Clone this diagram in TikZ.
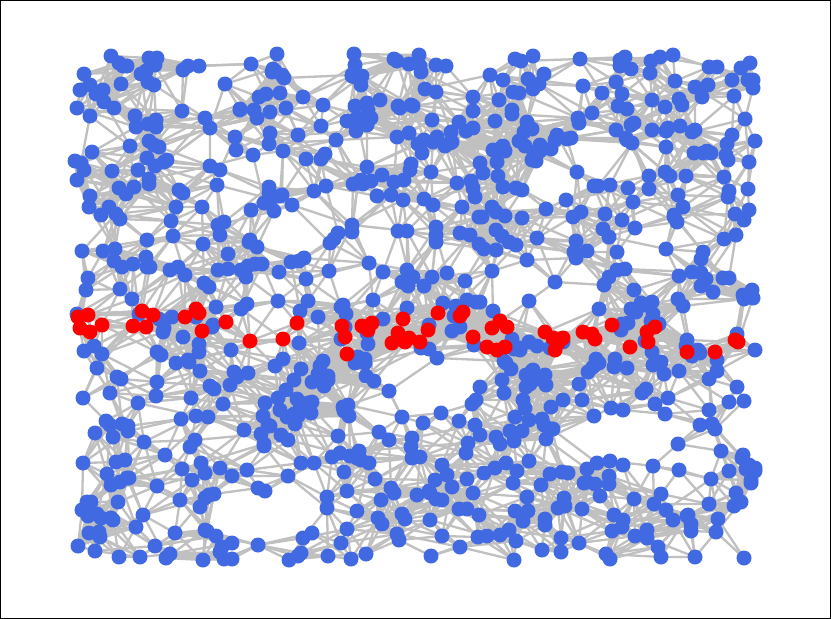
\documentclass[tikz,border=0pt]{standalone}
\pgfdeclarelayer{bg}
\pgfsetlayers{bg,main}
\definecolor{nodeblue}{RGB}{65,105,225}
\definecolor{nodered}{RGB}{255,0,0}
\definecolor{edgegray}{RGB}{192,192,192}
\tikzset{
  bnode/.style={circle,fill=nodeblue,draw=none,inner sep=0pt,minimum size=15pt},
  rnode/.style={circle,fill=nodered,draw=none,inner sep=0pt,minimum size=15pt},
  edgeline/.style={draw=edgegray,line width=2.3pt},
  frame/.style={draw=black,line width=1pt},
}
\makeatletter
\newcount\ptN
\newcount\ptK
\newcount\nBlue
\newif\ifreject
\def\target{850}
\def\thresh{465100}
\newcommand\addpt[2]{%
  \global\advance\ptN by 1
  \expandafter\xdef\csname PX\the\ptN\endcsname{\number#1}%
  \expandafter\xdef\csname PY\the\ptN\endcsname{\number#2}%
  \edef\ci{\the\numexpr(#1-35)/70\relax}%
  \edef\cj{\the\numexpr(#2-26)/52\relax}%
  \expandafter\xdef\csname PI\the\ptN\endcsname{\ci}%
  \expandafter\xdef\csname PJ\the\ptN\endcsname{\cj}%
  \ifcsname CL-\ci-\cj\endcsname\else
    \expandafter\gdef\csname CL-\ci-\cj\endcsname{}\fi
  \edef\tmp{\noexpand\do{\the\ptN}}%
  \expandafter\g@addto@macro\csname CL-\ci-\cj\expandafter\endcsname\expandafter{\tmp}%
}
\newcommand\hole[3]{%
  \ifnum\numexpr(\rx-#1)*(\rx-#1)+(\ry-#2)*(\ry-#2)\relax<\numexpr#3*#3\relax
    \rejecttrue\fi}
\def\holelist{\hole{440}{388}{24}\hole{705}{316}{24}\hole{640}{430}{24}%
  \hole{160}{197}{14}\hole{455}{527}{15}}
\newcommand\genone{%
  \pgfmathrandominteger{\rx}{75}{757}%
  \pgfmathrandominteger{\ry}{53}{560}%
  \rejectfalse
  \holelist
  \ifreject\else\addpt{\rx}{\ry}\fi}
\def\genloop{\ifnum\ptN<\target\relax\genone\expandafter\genloop\fi}
\newcommand\scancell[2]{%
  \ifcsname CL-\the\numexpr\curI+#1\relax-\the\numexpr\curJ+#2\relax\endcsname
    \csname CL-\the\numexpr\curI+#1\relax-\the\numexpr\curJ+#2\relax\endcsname
  \fi}
\newcommand\checkpair[1]{%
  \ifnum#1>\curA\relax
    \edef\dd{\the\numexpr 100*(\csname PX#1\endcsname-\curX)*(\csname PX#1\endcsname-\curX)
       +181*(\csname PY#1\endcsname-\curY)*(\csname PY#1\endcsname-\curY)\relax}%
    \ifnum\dd<\thresh\relax
      \pgfmathrandominteger{\uu}{0}{999}%
      \ifnum\uu<\numexpr 950-820*\dd/\thresh\relax
        \edef\segs{\segs(n\curA.center)--(n#1.center)}%
      \fi
    \fi
  \fi}
\newcommand\edgeone{%
  \edef\curA{\the\ptK}%
  \edef\curX{\csname PX\curA\endcsname}%
  \edef\curY{\csname PY\curA\endcsname}%
  \edef\curI{\csname PI\curA\endcsname}%
  \edef\curJ{\csname PJ\curA\endcsname}%
  \def\segs{}%
  \let\do\checkpair
  \scancell{-1}{-1}\scancell{0}{-1}\scancell{1}{-1}%
  \scancell{-1}{0}\scancell{0}{0}\scancell{1}{0}%
  \scancell{-1}{1}\scancell{0}{1}\scancell{1}{1}%
  \ifx\segs\empty\else
    \edef\tmpcmd{\noexpand\draw[edgeline]\segs;}\tmpcmd
  \fi}
\def\edgeloop{\ifnum\ptK<\ptN\relax\global\advance\ptK by 1 \edgeone\expandafter\edgeloop\fi}
\newcommand\nodeone{%
  \edef\k{\the\ptK}%
  \edef\ns{\ifnum\ptK>\nBlue rnode\else bnode\fi}%
  \edef\tmpcmd{\noexpand\node[\ns] (n\k) at (\csname PX\k\endcsname,\csname PY\k\endcsname) {};}%
  \tmpcmd}
\def\nodeloop{\ifnum\ptK<\ptN\relax\global\advance\ptK by 1 \nodeone\expandafter\nodeloop\fi}
\makeatother
\begin{document}
\begin{tikzpicture}[x=1pt,y=-1pt]
\useasboundingbox (0,0) rectangle (831,619);
\pgfmathsetseed{4242}
\genloop
\global\nBlue=\ptN
% highlighted path nodes
\addpt{78}{317}\addpt{80}{328}\addpt{88}{315}\addpt{90}{332}\addpt{102}{325}
\addpt{133}{326}\addpt{142}{311}\addpt{146}{327}\addpt{153}{315}\addpt{185}{317}
\addpt{196}{309}\addpt{199}{313}\addpt{202}{331}\addpt{226}{322}\addpt{250}{341}
\addpt{283}{339}\addpt{297}{323}\addpt{342}{326}\addpt{345}{337}\addpt{347}{354}
\addpt{362}{326}\addpt{368}{330}\addpt{372}{323}\addpt{398}{333}\addpt{403}{319}
\addpt{392}{343}\addpt{405}{342}\addpt{409}{338}\addpt{420}{342}\addpt{428}{330}
\addpt{438}{313}\addpt{460}{316}\addpt{463}{312}\addpt{473}{337}\addpt{487}{347}
\addpt{492}{328}\addpt{500}{321}\addpt{507}{327}\addpt{497}{350}\addpt{505}{347}
\addpt{545}{332}\addpt{553}{338}\addpt{563}{338}\addpt{555}{350}\addpt{558}{343}
\addpt{583}{332}\addpt{592}{334}\addpt{595}{339}\addpt{612}{325}\addpt{630}{347}
\addpt{647}{332}\addpt{648}{342}\addpt{655}{327}\addpt{687}{352}\addpt{715}{352}
\addpt{735}{340}\addpt{738}{342}
% nodes
\global\ptK=0
\nodeloop
% edges behind nodes
\begin{pgfonlayer}{bg}
\fill[white] (0,0) rectangle (831,619);
\global\ptK=0
\edgeloop
\end{pgfonlayer}
\draw[frame] (0.5,0.5) rectangle (830.5,618.5);
\end{tikzpicture}
\end{document}
